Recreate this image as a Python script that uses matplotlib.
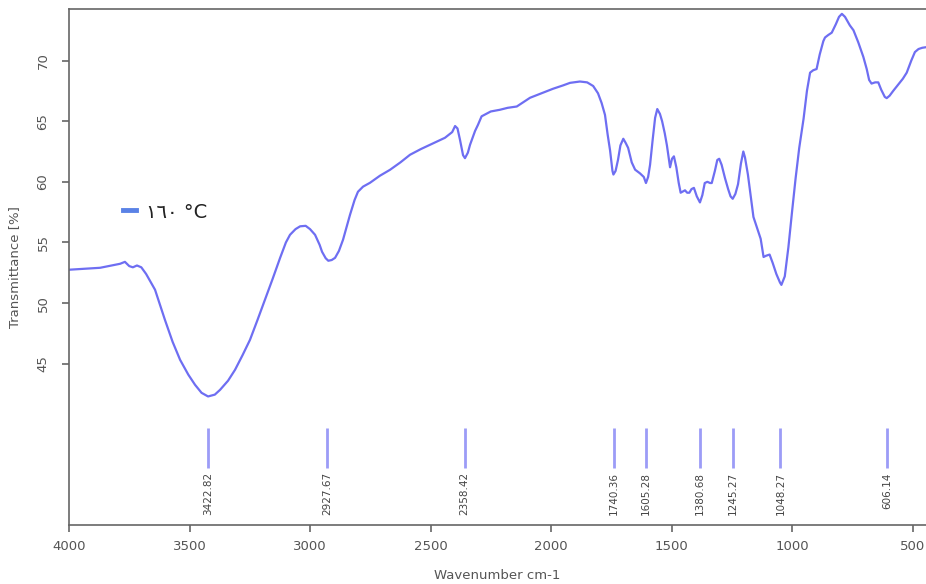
import matplotlib
matplotlib.use("Agg")
import matplotlib.pyplot as plt

wavenumber = [4000, 3871, 3788, 3768, 3750, 3735, 3718, 3700, 3680, 3643, 3602, 3570, 3539, 3505, 3477,
              3450, 3423, 3395, 3373, 3340, 3311, 3280, 3249, 3218, 3187, 3155, 3124, 3100, 3083, 3060,
              3041, 3018, 3000, 2979, 2960, 2950, 2935, 2924, 2910, 2896, 2880, 2863, 2834, 2815, 2801,
              2780, 2751, 2710, 2668, 2625, 2585, 2540, 2502, 2440, 2410, 2398, 2388, 2378, 2365, 2357,
              2345, 2336, 2315, 2303, 2288, 2250, 2212, 2180, 2142, 2087, 2040, 1992, 1950, 1921, 1880,
              1850, 1825, 1805, 1790, 1776, 1765, 1755, 1745, 1741, 1732, 1722, 1712, 1700, 1690, 1680,
              1665, 1651, 1631, 1615, 1606, 1597, 1589, 1578, 1568, 1559, 1548, 1539, 1528, 1519, 1506,
              1498, 1490, 1480, 1470, 1462, 1453, 1444, 1435, 1426, 1417, 1407, 1395, 1382, 1372, 1362,
              1351, 1340, 1333, 1320, 1310, 1302, 1292, 1278, 1265, 1255, 1246, 1235, 1224, 1212, 1202,
              1195, 1183, 1170, 1160, 1145, 1130, 1118, 1108, 1093, 1080, 1065, 1050, 1044, 1030, 1015,
              1000, 985, 970, 952, 938, 925, 912, 898, 885, 870, 863, 850, 835, 818, 805,
              793, 780, 760, 745, 725, 704, 690, 680, 670, 655, 642, 630, 615, 607, 595,
              580, 560, 540, 524, 505, 490, 475, 460, 444]
transmittance = [52.75, 52.91, 53.24, 53.40, 53.05, 52.95, 53.10, 52.95, 52.40, 51.10, 48.62, 46.8, 45.32, 44.1, 43.26,
                 42.6, 42.30, 42.45, 42.85, 43.6, 44.50, 45.7, 46.97, 48.6, 50.27, 52.0, 53.73, 55.0, 55.63, 56.1,
                 56.33, 56.37, 56.1, 55.63, 54.8, 54.23, 53.7, 53.49, 53.55, 53.73, 54.3, 55.22, 57.28, 58.5, 59.18,
                 59.6, 59.92, 60.5, 60.99, 61.6, 62.23, 62.7, 63.05, 63.63, 64.1, 64.6, 64.4, 63.5, 62.2, 61.95,
                 62.4, 63.05, 64.2, 64.70, 65.4, 65.8, 65.94, 66.1, 66.21, 66.93, 67.3, 67.67, 67.95, 68.16, 68.27,
                 68.2, 67.9, 67.3, 66.5, 65.52, 63.9, 62.6, 60.9, 60.6, 60.9, 61.81, 63.0, 63.55, 63.2, 62.80,
                 61.6, 61.0, 60.7, 60.4, 59.9, 60.4, 61.4, 63.5, 65.28, 66.0, 65.6, 65.0, 64.0, 63.0, 61.2,
                 61.9, 62.1, 61.2, 59.9, 59.1, 59.2, 59.3, 59.1, 59.1, 59.4, 59.5, 58.8, 58.3, 58.9, 59.9,
                 60.0, 59.9, 59.9, 60.9, 61.8, 61.9, 61.4, 60.3, 59.4, 58.8, 58.6, 59.0, 59.8, 61.5, 62.5,
                 62.0, 60.6, 58.6, 57.1, 56.2, 55.3, 53.8, 53.9, 54.0, 53.3, 52.4, 51.7, 51.5, 52.2, 54.6,
                 57.5, 60.3, 62.8, 65.2, 67.5, 69.0, 69.2, 69.3, 70.5, 71.6, 71.9, 72.1, 72.3, 73.0, 73.6,
                 73.85, 73.6, 72.9, 72.5, 71.5, 70.3, 69.3, 68.4, 68.1, 68.2, 68.2, 67.6, 67.0, 66.9, 67.1,
                 67.5, 68.0, 68.5, 69.0, 70.0, 70.7, 70.95, 71.05, 71.1]

peak_positions = [3422.82, 2927.67, 2358.42, 1740.36, 1605.28, 1380.68, 1245.27, 1048.27, 606.14]
peak_labels = ["3422.82", "2927.67", "2358.42", "1740.36", "1605.28", "1380.68", "1245.27", "1048.27", "606.14"]
x_ticks = [4000, 3500, 3000, 2500, 2000, 1500, 1000, 500]
y_ticks = [45, 50, 55, 60, 65, 70]
legend_label = "\u0661\u0666\u0660 \u00b0C"

fig = plt.figure(figsize=(9.26, 5.84), dpi=100)
ax = fig.add_axes([69 / 926, 1 - 525 / 584, 1 - 69 / 926, (525 - 9) / 584])

ax.plot(wavenumber, transmittance, color="#6e6ef2", lw=1.6)

ax.vlines(peak_positions, 36.4, 39.7, color="#9c9cf7", lw=2.0)
for p, lab in zip(peak_positions, peak_labels):
    ax.text(p, 36.05, lab, rotation=90, ha="center", va="top", fontsize=7.5, color="#444444")

ax.set_xlim(4000, 444)
ax.set_ylim(31.7, 74.25)
ax.set_xticks(x_ticks)
ax.set_yticks(y_ticks)
ax.tick_params(axis="both", direction="out", length=5, width=1.2, color="#666666",
               labelcolor="#555555", labelsize=9.5)
ax.tick_params(axis="x", pad=6)
ax.tick_params(axis="y", labelrotation=90, pad=9)
for lab in ax.get_yticklabels():
    lab.set_va("center")
for side in ["left", "bottom", "top"]:
    ax.spines[side].set_color("#666666")
    ax.spines[side].set_linewidth(1.2)
ax.spines["right"].set_visible(False)

ax.set_xlabel("Wavenumber cm-1", fontsize=9.5, color="#555555", labelpad=11)
ax.set_ylabel("Transmittance [%]", fontsize=9.5, color="#555555", labelpad=11)

# legend entry
fig.lines.append(plt.Line2D([123 / 926, 136 / 926], [1 - 210 / 584, 1 - 210 / 584],
                            transform=fig.transFigure, color="#5a82e6", lw=3.5))
fig.text(146 / 926, 1 - 212 / 584, legend_label, fontsize=14, color="#222222",
         family=["DejaVu Sans", "Noto Sans"], va="center", ha="left")

fig.savefig("out.png", dpi=100)
